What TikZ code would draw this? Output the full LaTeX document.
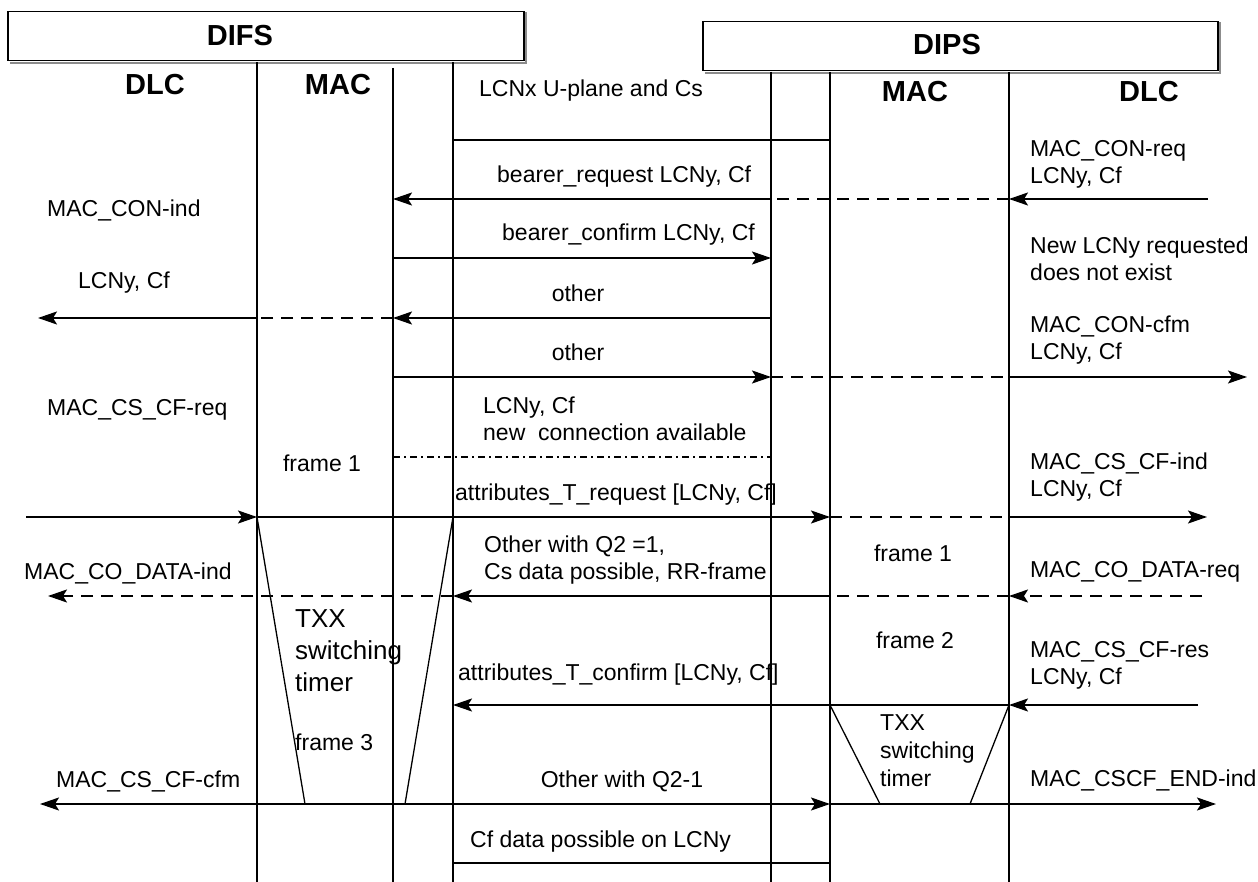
\documentclass[tikz,border=0pt]{standalone}
\usepackage{fontspec}
\setmainfont{Liberation Sans}
\usetikzlibrary{arrows.meta}
\begin{document}
\begin{tikzpicture}[x=1pt,y=-1pt,
  life/.style={line width=1.3pt},
  msg/.style={line width=2pt},
  tip/.style={-{Stealth[length=19pt,width=13pt,inset=4pt]}},
  dsh/.style={line width=2pt, dash pattern=on 12pt off 8pt},
  dashdot/.style={line width=1.3pt, dash pattern=on 7pt off 4pt on 2pt off 4pt},
  txt/.style={font=\fontsize{23}{27}\selectfont, inner sep=0pt, anchor=west, align=left},
  ctxt/.style={font=\fontsize{23}{27}\selectfont, inner sep=0pt},
  hdr/.style={font=\fontsize{29}{33}\selectfont\bfseries, inner sep=0pt},
  big/.style={font=\fontsize{26}{32}\selectfont, inner sep=0pt, anchor=north west, align=left},
  mid/.style={font=\fontsize{23}{28}\selectfont, inner sep=0pt, anchor=north west, align=left},
  box/.style={draw, line width=1.5pt, anchor=north west, inner sep=0pt},
  shade/.style={draw=black!45, line width=1.5pt}
]
\useasboundingbox (0,0) rectangle (1258,882);

% header boxes
\node[box, minimum width=516pt, minimum height=49pt] (difsbox) at (7,11) {};
\draw[shade] ([xshift=1.5pt,yshift=-1.5pt]difsbox.north east) -- ([xshift=1.5pt,yshift=-1.5pt]difsbox.south east) -- ([xshift=3pt,yshift=-1.5pt]difsbox.south west);
\node[hdr] (difs) at (240,36) {DIFS};
\node[box, minimum width=515pt, minimum height=49pt] (dipsbox) at (702,21) {};
\draw[shade] ([xshift=1.5pt,yshift=-1.5pt]dipsbox.north east) -- ([xshift=1.5pt,yshift=-1.5pt]dipsbox.south east) -- ([xshift=3pt,yshift=-1.5pt]dipsbox.south west);
\node[hdr] (dips) at (947,45) {DIPS};

% lifelines
\coordinate (At) at (257,62);  \coordinate (Ab) at (257,882);
\coordinate (Bt) at (393,68);  \coordinate (Bb) at (393,882);
\coordinate (Ct) at (453,62);  \coordinate (Cb) at (453,882);
\coordinate (Dt) at (771,72);  \coordinate (Db) at (771,882);
\coordinate (Et) at (830,72);  \coordinate (Eb) at (830,882);
\coordinate (Ft) at (1009,72); \coordinate (Fb) at (1009,882);
\foreach \p in {A,B,C,D,E,F} \draw[life] (\p t) -- (\p b);

% column headers
\node[hdr] (dlcL) at (155,85) {DLC};
\node[hdr] (macL) at (338,85) {MAC};
\node[hdr] (macR) at (915,92) {MAC};
\node[hdr] (dlcR) at (1149,92) {DLC};

% rows
\coordinate (r0) at (0,140);
\coordinate (r1) at (0,199);
\coordinate (r2) at (0,258);
\coordinate (r3) at (0,318);
\coordinate (r4) at (0,377);
\coordinate (r5) at (0,457);
\coordinate (r6) at (0,517);
\coordinate (r7) at (0,596);
\coordinate (r8) at (0,705);
\coordinate (r9) at (0,804);
\coordinate (r10) at (0,863);

% free ends
\coordinate (e1) at (1208,199);
\coordinate (e3) at (38,318);
\coordinate (e4) at (1247,377);
\coordinate (e6l) at (26,517);
\coordinate (e6r) at (1207,517);
\coordinate (e7r) at (1202,596);
\coordinate (e7l) at (48,596);
\coordinate (e8) at (1198,705);
\coordinate (e9l) at (40,804);
\coordinate (e9r) at (1216,804);

% messages
\draw[msg] (Ct|-r0) -- (Et|-r0);

\draw[msg,tip] (e1) -- (Ft|-r1);
\draw[dsh] (Ft|-r1) -- (Dt|-r1);
\draw[msg,tip] (Dt|-r1) -- (Bt|-r1);

\draw[msg,tip] (Bt|-r2) -- (Dt|-r2);

\draw[msg,tip] (Dt|-r3) -- (Bt|-r3);
\draw[dsh] (Bt|-r3) -- (At|-r3);
\draw[msg,tip] (At|-r3) -- (e3);

\draw[msg,tip] (Bt|-r4) -- (Dt|-r4);
\draw[dsh] (Dt|-r4) -- (Ft|-r4);
\draw[msg,tip] (Ft|-r4) -- (e4);

\draw[dashdot] (Bt|-r5) -- (Dt|-r5);

\draw[msg,tip] (e6l) -- (At|-r6);
\draw[msg,tip] (At|-r6) -- (Et|-r6);
\draw[dsh] (Et|-r6) -- (Ft|-r6);
\draw[msg,tip] (Ft|-r6) -- (e6r);

\draw[dsh,tip] (e7r) -- (Ft|-r7);
\draw[dsh] (Ft|-r7) -- (Et|-r7);
\draw[msg,tip] (Et|-r7) -- (Ct|-r7);
\draw[dsh,tip] (Ct|-r7) -- (e7l);

\draw[msg,tip] (e8) -- (Ft|-r8);
\draw[msg,tip] (Ft|-r8) -- (Ct|-r8);

\draw[msg,tip] (Ct|-r9) -- (e9l);
\draw[msg,tip] (Ct|-r9) -- (Et|-r9);
\draw[msg,tip] (Et|-r9) -- (e9r);

\draw[msg] (Ct|-r10) -- (Et|-r10);

% switching timers
\coordinate (t1a) at (305,804);
\coordinate (t1b) at (405,804);
\coordinate (t2a) at (880,804);
\coordinate (t2b) at (970,804);
\draw[life] (At|-r6) -- (t1a);
\draw[life] (Ct|-r6) -- (t1b);
\draw[life] (Et|-r8) -- (t2a);
\draw[life] (Ft|-r8) -- (t2b);

% left DLC texts
\node[txt] (t_conind) at (47,210) {MAC\_CON-ind};
\node[txt] (t_lcnL) at (78,283) {LCNy, Cf};
\node[txt] (t_csreq) at (47,410) {MAC\_CS\_CF-req};
\node[txt] (t_coind) at (24,573) {MAC\_CO\_DATA-ind};
\node[txt] (t_cscfm) at (56,781) {MAC\_CS\_CF-cfm};

% left MAC texts
\node[ctxt] (t_f1L) at (322,463) {frame 1};
\node[big] (t_txxL) at (295,609) {TXX\\switching\\timer};
\node[txt] (t_f3) at (295,742) {frame 3};

% middle texts
\node[txt] (t_uplane) at (479,91) {LCNx U-plane and Cs};
\node[txt] (t_breq) at (497,177) {bearer\_request LCNy, Cf};
\node[txt] (t_bcfm) at (502,235) {bearer\_confirm LCNy, Cf};
\node[ctxt] (t_oth1) at (578,293) {other};
\node[ctxt] (t_oth2) at (578,352) {other};
\node[txt] (t_newconn) at (483,419) {LCNy, Cf\\new\ \ connection available};
\node[txt] (t_atreq) at (455,495) {attributes\_T\_request [LCNy, Cf]};
\node[txt] (t_q2a) at (484,560) {Other with Q2 =1,\\Cs data possible, RR-frame};
\node[txt] (t_atcfm) at (458,675) {attributes\_T\_confirm [LCNy, Cf]};
\node[ctxt] (t_q2b) at (622,781) {Other with Q2-1};
\node[txt] (t_cfdata) at (470,842) {Cf data possible on LCNy};

% DIPS MAC texts
\node[ctxt] (t_f1R) at (913,553) {frame 1};
\node[ctxt] (t_f2R) at (915,640) {frame 2};
\node[mid] (t_txxR) at (880,714) {TXX\\switching\\timer};

% right DLC texts
\node[txt] (t_conreq) at (1030,164) {MAC\_CON-req\\LCNy, Cf};
\node[txt] (t_newlcn) at (1030,259) {New LCNy requested\\does not exist};
\node[txt] (t_concfm) at (1030,340) {MAC\_CON-cfm\\LCNy, Cf};
\node[txt] (t_csind) at (1030,477) {MAC\_CS\_CF-ind\\LCNy, Cf};
\node[txt] (t_coreq) at (1030,572) {MAC\_CO\_DATA-req};
\node[txt] (t_csres) at (1030,665) {MAC\_CS\_CF-res\\LCNy, Cf};
\node[txt] (t_endind) at (1030,780) {MAC\_CSCF\_END-ind};
\end{tikzpicture}
\end{document}
